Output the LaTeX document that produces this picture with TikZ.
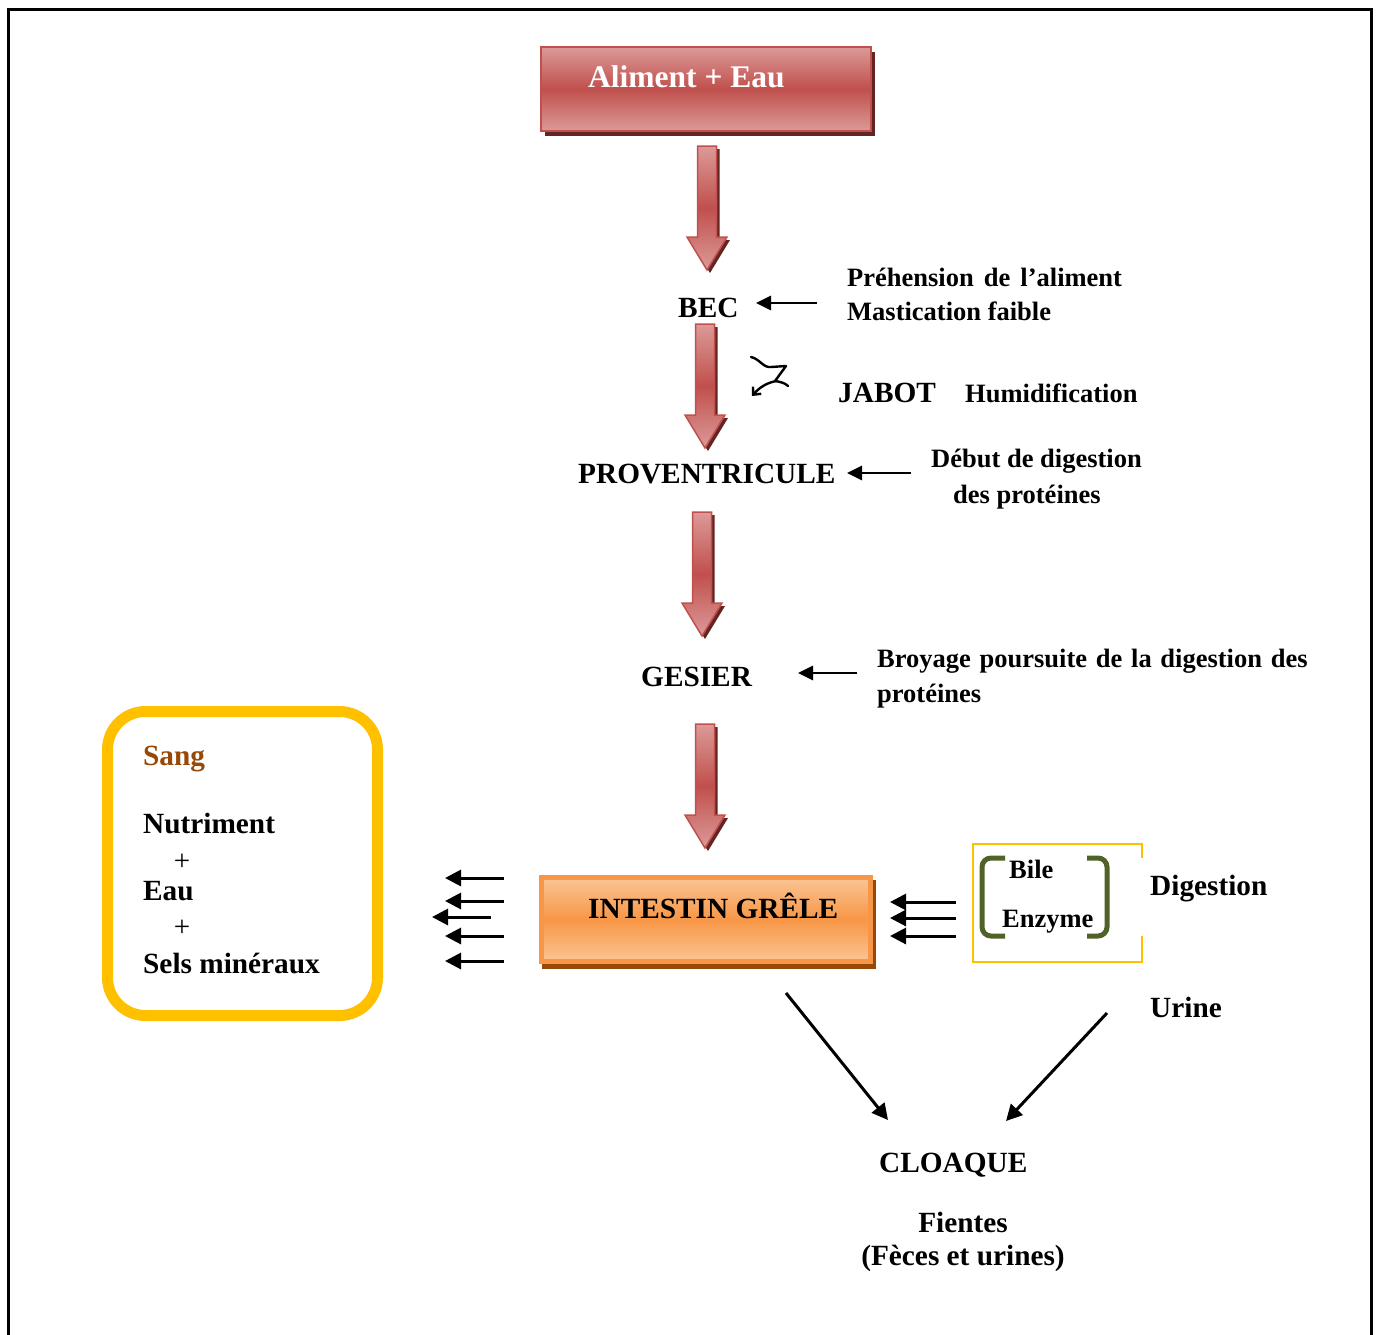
\documentclass[tikz,border=0pt]{standalone}
\usepackage{fontspec}
\setmainfont{Liberation Serif}
\usetikzlibrary{arrows.meta}
\definecolor{redmid}{HTML}{C0504D}
\definecolor{redlight}{HTML}{DC9A98}
\definecolor{redshadow}{HTML}{632523}
\definecolor{orgmid}{HTML}{F79646}
\definecolor{orglight}{HTML}{FBC595}
\definecolor{orgshadow}{HTML}{984807}
\definecolor{gold}{HTML}{FFC000}
\definecolor{olive}{HTML}{4F6228}
\definecolor{sangcol}{HTML}{984807}
\begin{document}
\begin{tikzpicture}[x=1pt,y=-1pt,
  big/.style={font=\fontsize{29.3}{34}\selectfont\bfseries, inner sep=0pt, anchor=base west},
  small/.style={font=\fontsize{26.5}{31}\selectfont\bfseries, inner sep=0pt, anchor=base west},
  blk/.style={line width=3pt, -{Triangle[length=16pt,width=16pt]}},
  sblk/.style={line width=2.8pt, -{Triangle[length=15pt,width=14pt]}},
  redarr/.pic={
    \fill[redshadow] (-6.5,3) -- (12.5,3) -- (12.5,94) -- (23,94) -- (3,127) -- (-17,94) -- (-6.5,94) -- cycle;
    \path[draw=redmid, line width=1.5pt, top color=redlight, bottom color=redlight, middle color=redmid]
      (-9.5,0) -- (9.5,0) -- (9.5,91) -- (20,91) -- (0,124) -- (-20,91) -- (-9.5,91) -- cycle;
  }
]
\useasboundingbox (0,0) rectangle (1378,1334);
% frame
\draw[line width=2.6pt] (8.5,1345) -- (8.5,9.5) -- (1371.3,9.5) -- (1371.3,1345);

% Aliment box
\fill[redshadow] (545,52) rectangle (875,136);
\path[draw=redmid, line width=2.5pt, top color=redlight, bottom color=redlight, middle color=redmid] (541,47) rectangle (871,131);
\node[big, text=white, font=\fontsize{31.5}{36}\selectfont\bfseries] (alim) at (588,87) {Aliment + Eau};

% red arrows
\pic at (707,146) {redarr};
\pic at (705,324) {redarr};
\pic at (702,512) {redarr};
\pic at (705,724) {redarr};

% BEC
\node[big] (bec) at (678,317) {BEC};
\node[small] (preh) at (847,286) {Préhension\hspace{0.38em}de\hspace{0.38em}l’aliment};
\node[small] (mast) at (847,320) {Mastication faible};
\coordinate (b1) at (817,303); \coordinate (b2) at (756,303);
\draw[sblk] (b1) -- (b2);

% squiggle
\draw[line width=2.4pt, line cap=round, line join=round] (751,357) .. controls (760,359) and (763,368) .. (771,367) -- (786,366) -- (775,381) .. controls (781,382) and (785,383) .. (788,386);
\draw[line width=2.4pt, line cap=round, -{Straight Barb[length=6pt,width=11pt]}] (776,381) .. controls (766,383) and (759,388) .. (752,396);

% JABOT
\node[big] (jabot) at (838,402) {JABOT};
\node[small] (humid) at (965,402) {Humidification};

% PROVENTRICULE
\node[big] (prov) at (578,483) {PROVENTRICULE};
\node[small] (debut) at (931,467) {Début de digestion};
\node[small] (prot1) at (953,503) {des protéines};
\coordinate (c1) at (911,473); \coordinate (c2) at (847,473);
\draw[sblk] (c1) -- (c2);

% GESIER
\node[big] (gesier) at (641,686) {GESIER};
\node[small] (broy) at (877,667) {Broyage\hspace{0.33em}poursuite\hspace{0.33em}de\hspace{0.33em}la\hspace{0.33em}digestion\hspace{0.33em}des};
\node[small] (prot2) at (877,702) {protéines};
\coordinate (d1) at (857,673); \coordinate (d2) at (798,673);
\draw[sblk] (d1) -- (d2);

% Sang box
\draw[gold, line width=11pt, rounded corners=38pt] (107.5,711.5) rectangle (377.5,1015.5);
\node[big, text=sangcol] (sang) at (143,765) {Sang};
\node[big] (nutr) at (143,833) {Nutriment};
\node[font=\fontsize{29}{34}\selectfont, inner sep=0pt] (plus1) at (182,862) {+};
\node[big] (eau) at (143,900) {Eau};
\node[font=\fontsize{29}{34}\selectfont, inner sep=0pt] (plus2) at (182,928) {+};
\node[big] (sels) at (143,973) {Sels minéraux};

% left arrows
\coordinate (l1a) at (504,878); \coordinate (l1b) at (445,878);
\coordinate (l2a) at (504,901); \coordinate (l2b) at (445,901);
\coordinate (l3a) at (491,917); \coordinate (l3b) at (432,917);
\coordinate (l4a) at (504,936); \coordinate (l4b) at (445,936);
\coordinate (l5a) at (504,961); \coordinate (l5b) at (445,961);
\draw[blk] (l1a) -- (l1b);
\draw[blk] (l2a) -- (l2b);
\draw[blk] (l3a) -- (l3b);
\draw[blk] (l4a) -- (l4b);
\draw[blk] (l5a) -- (l5b);

% Intestin box
\fill[orgshadow] (542,880) rectangle (876,969);
\path[draw=orgmid, line width=5pt, top color=orglight, bottom color=orglight, middle color=orgmid] (541.5,877.5) rectangle (870.5,961.5);
\node[big] (intestin) at (588,918) {INTESTIN GRÊLE};

% right arrows
\coordinate (r1a) at (956,902); \coordinate (r1b) at (890,902);
\coordinate (r2a) at (956,918); \coordinate (r2b) at (890,918);
\coordinate (r3a) at (956,936); \coordinate (r3b) at (890,936);
\draw[blk] (r1a) -- (r1b);
\draw[blk] (r2a) -- (r2b);
\draw[blk] (r3a) -- (r3b);

% bile box
\draw[gold, line width=2pt] (1142,858) -- (1142,844) -- (973,844) -- (973,962) -- (1142,962) -- (1142,936);
\draw[olive, line width=5pt, rounded corners=9pt] (1005,858) -- (982,858) -- (982,936) -- (1005,936);
\draw[olive, line width=5pt, rounded corners=9pt] (1087,858) -- (1107,858) -- (1107,936) -- (1087,936);
\node[small] (bile) at (1009,878) {Bile};
\node[small] (enz) at (1002,927) {Enzyme};
\node[big] (dig) at (1150,895) {Digestion};
\node[big] (urine) at (1150,1017) {Urine};

% diagonals
\coordinate (g1) at (786,993); \coordinate (g2) at (888,1120);
\coordinate (h1) at (1107,1013); \coordinate (h2) at (1006,1121);
\draw[blk] (g1) -- (g2);
\draw[blk] (h1) -- (h2);

% cloaque
\node[big] (cloaque) at (879,1172) {CLOAQUE};
\node[big, anchor=base] (fientes) at (963,1232) {Fientes};
\node[big, anchor=base] (feces) at (963,1265) {(Fèces et urines)};
\end{tikzpicture}
\end{document}
